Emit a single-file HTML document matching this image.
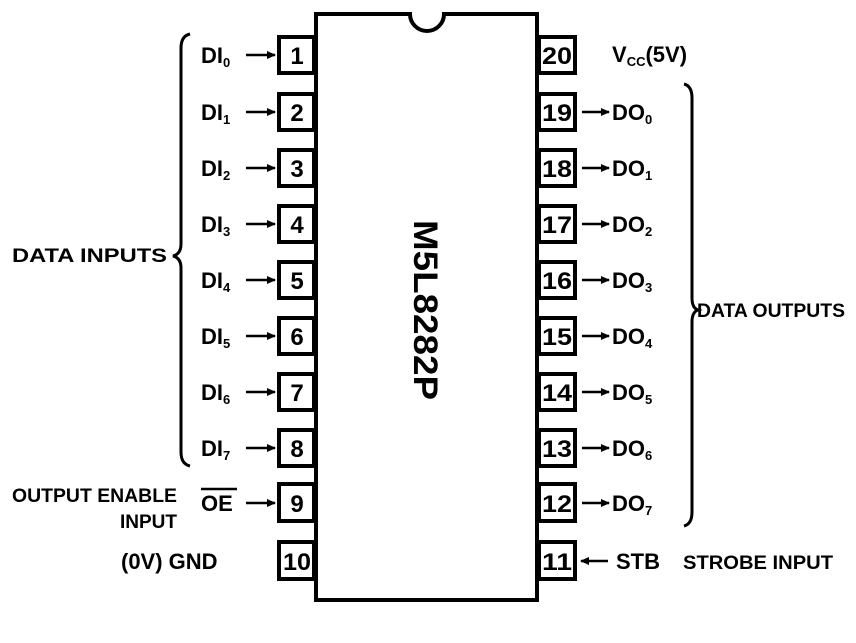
<!DOCTYPE html>
<html><head><meta charset="utf-8"><style>
html,body{margin:0;padding:0;background:#fff;}
svg text{font-family:"Liberation Sans",sans-serif;font-weight:bold;fill:#000;}
</style></head><body>
<svg width="856" height="638" viewBox="0 0 856 638" xmlns="http://www.w3.org/2000/svg">
<defs>
<marker id="ar" markerWidth="9" markerHeight="8" refX="8" refY="4" orient="auto" markerUnits="userSpaceOnUse"><path d="M0,0 L9,4 L0,8 z" fill="#000"/></marker>
</defs>
<path d="M316,14 L410,14 A17,17 0 0 0 444,14 L537,14 L537,600 L316,600 Z" fill="none" stroke="#000" stroke-width="4"/>
<text transform="translate(414,310) rotate(90)" text-anchor="middle" font-size="34" textLength="180" lengthAdjust="spacingAndGlyphs">M5L8282P</text>
<g fill="#fff" stroke="#000" stroke-width="4">
<rect x="279" y="37" width="35" height="36"/><rect x="279" y="94" width="35" height="36"/>
<rect x="279" y="150" width="35" height="36"/><rect x="279" y="206" width="35" height="36"/>
<rect x="279" y="262" width="35" height="36"/><rect x="279" y="318" width="35" height="36"/>
<rect x="279" y="374" width="35" height="36"/><rect x="279" y="430" width="35" height="36"/>
<rect x="279" y="484" width="35" height="37"/><rect x="279" y="542" width="35" height="37"/>
<rect x="539" y="37" width="36" height="36"/><rect x="539" y="94" width="36" height="36"/>
<rect x="539" y="150" width="36" height="36"/><rect x="539" y="206" width="36" height="36"/>
<rect x="539" y="262" width="36" height="36"/><rect x="539" y="318" width="36" height="36"/>
<rect x="539" y="374" width="36" height="36"/><rect x="539" y="430" width="36" height="36"/>
<rect x="539" y="484" width="36" height="37"/><rect x="539" y="542" width="36" height="37"/>
</g>
<g font-size="24" text-anchor="middle">
<text x="297" y="64">1</text><text x="297" y="121">2</text><text x="297" y="177">3</text><text x="297" y="233">4</text>
<text x="297" y="289">5</text><text x="297" y="345">6</text><text x="297" y="401">7</text><text x="297" y="457">8</text>
<text x="297" y="512">9</text><text x="297" y="570" textLength="28" lengthAdjust="spacingAndGlyphs">10</text>
<text x="557" y="64" textLength="30" lengthAdjust="spacingAndGlyphs">20</text><text x="557" y="121" textLength="30" lengthAdjust="spacingAndGlyphs">19</text>
<text x="557" y="177" textLength="30" lengthAdjust="spacingAndGlyphs">18</text><text x="557" y="233" textLength="30" lengthAdjust="spacingAndGlyphs">17</text>
<text x="557" y="289" textLength="30" lengthAdjust="spacingAndGlyphs">16</text><text x="557" y="345" textLength="30" lengthAdjust="spacingAndGlyphs">15</text>
<text x="557" y="401" textLength="30" lengthAdjust="spacingAndGlyphs">14</text><text x="557" y="457" textLength="30" lengthAdjust="spacingAndGlyphs">13</text>
<text x="557" y="512" textLength="30" lengthAdjust="spacingAndGlyphs">12</text><text x="557" y="570" textLength="30" lengthAdjust="spacingAndGlyphs">11</text>
</g>
<g stroke="#000" stroke-width="2.5" marker-end="url(#ar)">
<line x1="246" y1="55" x2="275" y2="55"/><line x1="246" y1="112" x2="275" y2="112"/>
<line x1="246" y1="168" x2="275" y2="168"/><line x1="246" y1="224" x2="275" y2="224"/>
<line x1="246" y1="280" x2="275" y2="280"/><line x1="246" y1="336" x2="275" y2="336"/>
<line x1="246" y1="392" x2="275" y2="392"/><line x1="246" y1="448" x2="275" y2="448"/>
<line x1="246" y1="503" x2="275" y2="503"/>
<line x1="582" y1="112" x2="609" y2="112"/><line x1="582" y1="168" x2="609" y2="168"/>
<line x1="582" y1="224" x2="609" y2="224"/><line x1="582" y1="280" x2="609" y2="280"/>
<line x1="582" y1="336" x2="609" y2="336"/><line x1="582" y1="392" x2="609" y2="392"/>
<line x1="582" y1="448" x2="609" y2="448"/><line x1="582" y1="503" x2="609" y2="503"/>
<line x1="608" y1="561" x2="581" y2="561"/>
</g>
<g font-size="22">
<text x="201" y="63">DI<tspan font-size="13" dy="4">0</tspan></text>
<text x="201" y="120">DI<tspan font-size="13" dy="4">1</tspan></text>
<text x="201" y="176">DI<tspan font-size="13" dy="4">2</tspan></text>
<text x="201" y="232">DI<tspan font-size="13" dy="4">3</tspan></text>
<text x="201" y="288">DI<tspan font-size="13" dy="4">4</tspan></text>
<text x="201" y="344">DI<tspan font-size="13" dy="4">5</tspan></text>
<text x="201" y="400">DI<tspan font-size="13" dy="4">6</tspan></text>
<text x="201" y="456">DI<tspan font-size="13" dy="4">7</tspan></text>
<text x="612" y="120">DO<tspan font-size="13" dy="4">0</tspan></text>
<text x="612" y="176">DO<tspan font-size="13" dy="4">1</tspan></text>
<text x="612" y="232">DO<tspan font-size="13" dy="4">2</tspan></text>
<text x="612" y="288">DO<tspan font-size="13" dy="4">3</tspan></text>
<text x="612" y="344">DO<tspan font-size="13" dy="4">4</tspan></text>
<text x="612" y="400">DO<tspan font-size="13" dy="4">5</tspan></text>
<text x="612" y="456">DO<tspan font-size="13" dy="4">6</tspan></text>
<text x="612" y="511">DO<tspan font-size="13" dy="4">7</tspan></text>
<text x="612" y="62">V<tspan font-size="13" dy="4">CC</tspan><tspan dy="-4">(5V)</tspan></text>
<text x="201" y="511">OE</text>
<text x="121" y="569">(0V) GND</text>
<text x="616" y="569">STB</text>
</g>
<line x1="201" y1="489" x2="237" y2="489" stroke="#000" stroke-width="2.5"/>
<g font-size="19">
<text x="12" y="262" textLength="155" lengthAdjust="spacingAndGlyphs">DATA INPUTS</text>
<text x="697" y="317" textLength="148" lengthAdjust="spacingAndGlyphs">DATA OUTPUTS</text>
<text x="12" y="502" textLength="165" lengthAdjust="spacingAndGlyphs">OUTPUT ENABLE</text>
<text x="120" y="528" textLength="57" lengthAdjust="spacingAndGlyphs">INPUT</text>
<text x="683" y="569" textLength="150" lengthAdjust="spacingAndGlyphs">STROBE INPUT</text>
</g>
<path d="M190,34 Q181,36 181,48 L181,244 Q181,254 173,256 Q181,258 181,268 L181,452 Q181,464 190,466" fill="none" stroke="#000" stroke-width="3"/>
<path d="M684,84 Q692,86 692,98 L692,298 Q692,308 698,310 Q692,312 692,322 L692,512 Q692,524 684,526" fill="none" stroke="#000" stroke-width="3"/>
</svg>
</body></html>
